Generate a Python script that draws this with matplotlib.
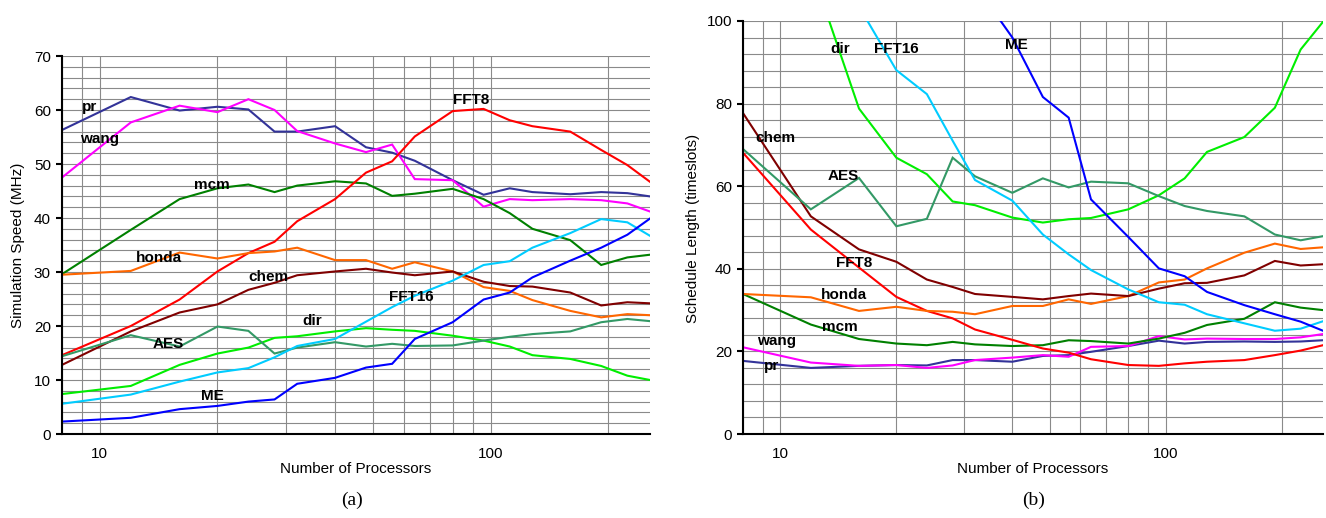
import matplotlib
matplotlib.use("Agg")
import matplotlib.pyplot as plt
from matplotlib.ticker import FixedLocator, NullFormatter, MultipleLocator, FixedFormatter, LogLocator

plt.rcParams['font.family'] = ['Liberation Sans', 'DejaVu Sans']

# processor counts sampled for every benchmark
procs = [8, 12, 16, 20, 24, 28, 32, 40, 48, 56, 64, 80, 96, 112, 128, 160, 192, 224, 256]

# (a) simulation speed in MHz
pr_a = [56.3, 62.4, 59.9, 60.6, 60.1, 56.0, 56.0, 57.0, 53.1, 52.1, 50.6, 47.0, 44.3, 45.5, 44.8, 44.4, 44.8, 44.6, 44.0]
wang_a = [47.5, 57.7, 60.8, 59.6, 62.0, 60.0, 56.1, 53.8, 52.2, 53.6, 47.2, 47.0, 42.1, 43.5, 43.3, 43.5, 43.3, 42.7, 41.2]
mcm_a = [29.6, 37.8, 43.5, 45.5, 46.2, 44.8, 46.0, 46.8, 46.4, 44.1, 44.5, 45.4, 43.5, 40.9, 38.0, 35.9, 31.3, 32.7, 33.2]
fft8_a = [14.6, 20.0, 24.9, 30.1, 33.5, 35.6, 39.4, 43.5, 48.4, 50.5, 55.1, 59.8, 60.2, 58.1, 57.0, 56.0, 52.6, 49.8, 46.7]
honda_a = [29.5, 30.2, 33.6, 32.5, 33.5, 33.8, 34.5, 32.2, 32.2, 30.6, 31.8, 30.1, 27.2, 26.5, 24.8, 22.8, 21.6, 22.2, 22.0]
chem_a = [12.8, 19.0, 22.5, 24.0, 26.7, 28.0, 29.4, 30.1, 30.6, 29.9, 29.4, 30.1, 28.2, 27.4, 27.3, 26.2, 23.8, 24.4, 24.2]
dir_a = [7.4, 8.9, 12.8, 14.9, 16.0, 17.8, 18.1, 19.0, 19.6, 19.3, 19.1, 18.2, 17.3, 16.2, 14.6, 13.9, 12.6, 10.8, 10.0]
aes_a = [14.4, 18.3, 16.2, 19.9, 19.1, 14.9, 16.0, 17.0, 16.2, 16.7, 16.3, 16.4, 17.3, 18.0, 18.5, 19.0, 20.7, 21.3, 20.9]
fft16_a = [5.6, 7.3, 9.7, 11.4, 12.2, 14.2, 16.3, 17.6, 20.8, 23.5, 25.6, 28.4, 31.3, 32.0, 34.5, 37.2, 39.8, 39.2, 36.7]
me_a = [2.3, 3.0, 4.6, 5.2, 6.0, 6.4, 9.3, 10.4, 12.3, 13.0, 17.6, 20.7, 24.9, 26.2, 29.0, 32.1, 34.5, 36.9, 39.9]

# (b) schedule length in timeslots
pr_b = [17.7, 16.0, 16.5, 16.7, 16.6, 17.9, 17.9, 17.5, 18.9, 19.1, 19.9, 21.3, 22.6, 21.9, 22.3, 22.4, 22.3, 22.4, 22.7]
wang_b = [21.0, 17.3, 16.5, 16.7, 16.0, 16.6, 17.9, 18.5, 19.1, 18.7, 21.1, 21.3, 23.7, 22.9, 23.1, 23.0, 23.0, 23.4, 24.2]
mcm_b = [33.9, 26.5, 23.0, 21.9, 21.5, 22.3, 21.7, 21.3, 21.5, 22.7, 22.5, 21.9, 23.1, 24.5, 26.4, 27.9, 31.9, 30.6, 30.0]
fft8_b = [68.1, 49.5, 40.3, 33.2, 29.8, 28.0, 25.3, 22.8, 20.7, 19.7, 18.1, 16.7, 16.5, 17.1, 17.5, 17.9, 19.1, 20.2, 21.5]
honda_b = [33.9, 33.1, 29.8, 30.8, 29.8, 29.6, 29.0, 31.0, 31.0, 32.6, 31.5, 33.4, 36.7, 37.4, 40.1, 43.9, 46.1, 44.8, 45.2]
chem_b = [77.7, 52.7, 44.7, 41.7, 37.4, 35.6, 33.9, 33.2, 32.6, 33.4, 34.0, 33.4, 35.2, 36.5, 36.6, 38.4, 41.9, 40.8, 41.1]
dir_b = [140.0, 113.0, 78.8, 66.9, 62.9, 56.3, 55.4, 52.4, 51.2, 52.0, 52.3, 54.4, 57.8, 61.9, 68.3, 71.9, 79.0, 93.1, 99.8]
aes_b = [69.0, 54.4, 62.0, 50.3, 52.1, 66.9, 62.4, 58.4, 61.9, 59.7, 61.1, 60.7, 57.6, 55.2, 54.0, 52.7, 48.3, 46.9, 47.9]
fft16_b = [150.0, 125.0, 103.5, 88.1, 82.3, 71.0, 61.5, 56.5, 48.3, 43.5, 39.7, 35.0, 31.9, 31.3, 29.0, 26.8, 25.0, 25.5, 27.3]
me_b = [250.0, 200.0, 170.0, 150.0, 135.0, 120.0, 108.8, 96.0, 81.6, 76.6, 56.8, 47.7, 40.1, 38.2, 34.4, 31.2, 29.0, 27.2, 25.0]

names = ['pr', 'wang', 'mcm', 'FFT8', 'honda', 'chem', 'dir', 'AES', 'FFT16', 'ME']
colors = ['#333399', '#FF00FF', '#008000', '#FF0000', '#FF6600',
          '#800000', '#00EE00', '#339966', '#00CCFF', '#0000FF']
series_a = [pr_a, wang_a, mcm_a, fft8_a, honda_a, chem_a, dir_a, aes_a, fft16_a, me_a]
series_b = [pr_b, wang_b, mcm_b, fft8_b, honda_b, chem_b, dir_b, aes_b, fft16_b, me_b]

# where each curve name is written
label_pos_a = {'pr': (9.4, 60.6), 'wang': (10.0, 54.6), 'mcm': (19.4, 46.1), 'FFT8': (89.3, 61.9),
               'honda': (14.2, 32.6), 'chem': (27.0, 29.1), 'dir': (35.0, 20.9), 'AES': (15.0, 16.7),
               'FFT16': (62.7, 25.4), 'ME': (19.4, 7.0)}
label_pos_b = {'dir': (14.3, 93.2), 'FFT16': (20.0, 93.2), 'ME': (41.0, 94.2), 'chem': (9.7, 71.6),
               'AES': (14.6, 62.4), 'FFT8': (15.5, 41.4), 'honda': (14.6, 33.6), 'mcm': (14.3, 25.9),
               'wang': (9.8, 22.4), 'pr': (9.5, 16.5)}

W, H = 1326, 518
fig = plt.figure(figsize=(W / 100, H / 100), dpi=100)


def setup(ax, ymax, ystep, yminor):
    ax.set_xscale('log')
    ax.set_xlim(8, 256)
    ax.set_ylim(0, ymax)
    ax.xaxis.set_major_locator(FixedLocator([10, 100]))
    ax.xaxis.set_major_formatter(FixedFormatter(['10', '100']))
    ax.xaxis.set_minor_locator(LogLocator(base=10, subs=range(2, 10)))
    ax.xaxis.set_minor_formatter(NullFormatter())
    ax.yaxis.set_major_locator(MultipleLocator(ystep))
    ax.yaxis.set_minor_locator(MultipleLocator(yminor))
    ax.grid(which='both', color='#8a8a8a', lw=0.8)
    ax.set_axisbelow(True)
    for s in ['top', 'right']:
        ax.spines[s].set_visible(False)
    for s in ['left', 'bottom']:
        ax.spines[s].set_linewidth(1.5)
    ax.tick_params(axis='y', which='major', length=4, width=1.5, labelsize=11, pad=4)
    ax.tick_params(axis='x', which='major', length=0, labelsize=11, pad=9)
    ax.tick_params(which='minor', length=0)


ax_a = fig.add_axes([62 / W, 1 - 434 / H, 588 / W, 378 / H])
ax_b = fig.add_axes([743 / W, 1 - 434 / H, 580 / W, 413 / H])
setup(ax_a, 70, 10, 2)
setup(ax_b, 100, 20, 4)

for ax, series, pos in [(ax_a, series_a, label_pos_a), (ax_b, series_b, label_pos_b)]:
    for name, vals, c in zip(names, series, colors):
        ax.plot(procs, vals, color=c, lw=1.5, solid_joinstyle='miter')
    for name in names:
        x, y = pos[name]
        ax.text(x, y, name, fontsize=11, fontweight='bold', ha='center', va='center')

fig.text(18 / W, 1 - 245 / H, 'Simulation Speed (MHz)', rotation=90, fontsize=11, ha='center', va='center')
fig.text(693 / W, 1 - 228 / H, 'Schedule Length (timeslots)', rotation=90, fontsize=11, ha='center', va='center')
fig.text(356 / W, 1 - 469 / H, 'Number of Processors', fontsize=11, ha='center', va='center')
fig.text(1033 / W, 1 - 469 / H, 'Number of Processors', fontsize=11, ha='center', va='center')
fig.text(352 / W, 1 - 500 / H, '(a)', fontsize=14, family='Liberation Serif', ha='center', va='center')
fig.text(1034 / W, 1 - 500 / H, '(b)', fontsize=14, family='Liberation Serif', ha='center', va='center')

fig.savefig('out.png', dpi=100)
